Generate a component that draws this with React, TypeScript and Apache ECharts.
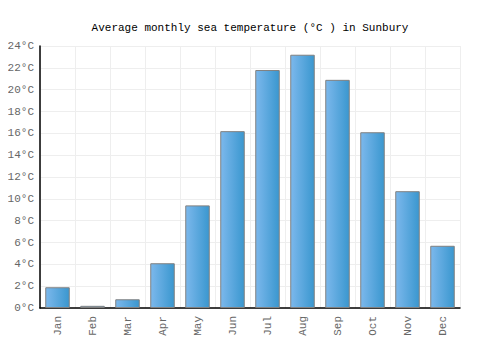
import React, { useEffect, useRef } from "react";
import * as echarts from "echarts";

const months = ["Jan", "Feb", "Mar", "Apr", "May", "Jun", "Jul", "Aug", "Sep", "Oct", "Nov", "Dec"];
const seaTemp = [1.9, 0.2, 0.8, 4.1, 9.4, 16.2, 21.8, 23.2, 20.9, 16.1, 10.7, 5.7];
const titleText = "Average monthly sea temperature (°C ) in Sunbury";

const FONT = "Liberation Mono";

export default function App() {
  const ref = useRef<HTMLDivElement>(null);
  useEffect(() => {
    const chart = echarts.init(ref.current!, null, { renderer: "svg" });
    chart.setOption({
      animation: false,
      backgroundColor: "#ffffff",
      title: {
        text: titleText,
        left: "center",
        top: 17,
        textStyle: { fontFamily: FONT, fontSize: 11, fontWeight: "normal", color: "#000" },
      },
      grid: { left: 40, right: 40, top: 46, bottom: 42, containLabel: false },
      xAxis: {
        type: "category",
        data: months,
        axisLine: { lineStyle: { color: "#000", width: 1.5 } },
        axisTick: { show: false },
        axisLabel: { rotate: 90, fontFamily: FONT, fontSize: 11, color: "#666", margin: 8 },
        splitLine: { show: true, lineStyle: { color: "#eeeeee" } },
      },
      yAxis: {
        type: "value",
        min: 0,
        max: 24,
        interval: 2,
        axisLine: { show: true, lineStyle: { color: "#000", width: 1.5 } },
        axisTick: { show: false },
        axisLabel: { formatter: "{value}°C", fontFamily: FONT, fontSize: 11, color: "#666", margin: 6 },
        splitLine: { show: true, lineStyle: { color: "#eeeeee" } },
      },
      series: [
        {
          type: "bar",
          data: seaTemp,
          barWidth: "70%",
          itemStyle: {
            color: new echarts.graphic.LinearGradient(0, 0, 1, 0, [
              { offset: 0, color: "#7cb8ec" },
              { offset: 1, color: "#3a97cf" },
            ]),
            borderColor: "#808080",
            borderWidth: 1,
          },
        },
      ],
    });
    return () => chart.dispose();
  }, []);
  return <div ref={ref} style={{ width: 500, height: 350, margin: -8 }} />;
}
